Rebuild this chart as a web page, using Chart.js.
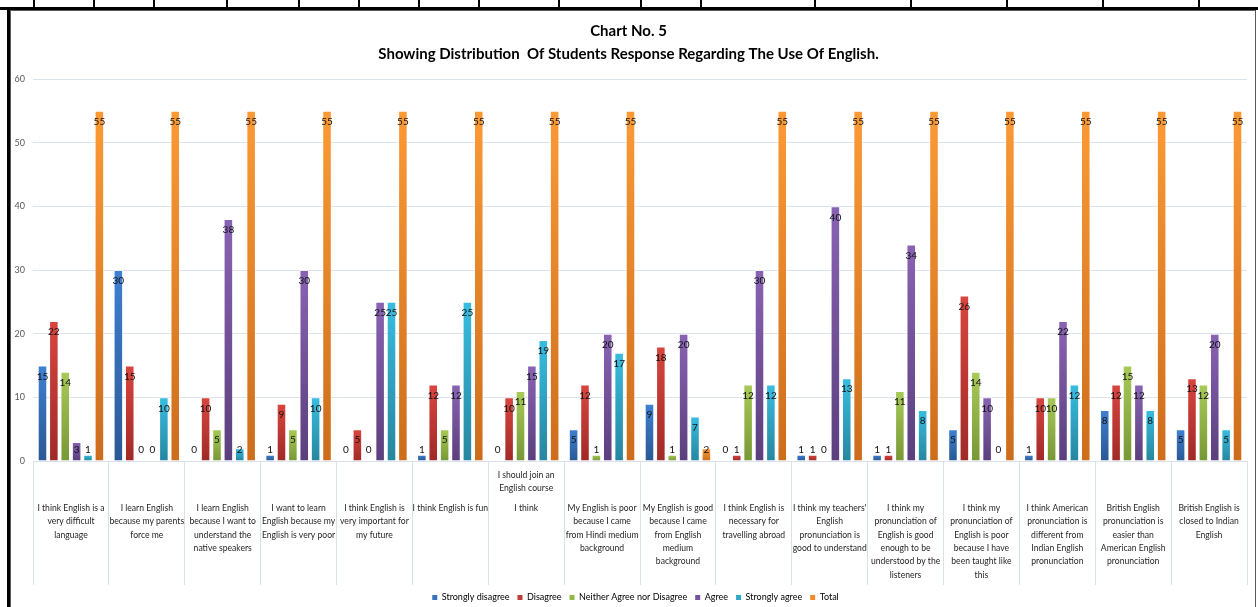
<!DOCTYPE html>
<html>
<head>
<meta charset="utf-8">
<title>Chart No. 5</title>
<script src="https://cdn.jsdelivr.net/npm/chart.js@4.4.1/dist/chart.umd.min.js"></script>
<style>
  html, body { margin: 0; padding: 0; background: #fff; }
  #wrap { position: relative; width: 1258px; height: 607px; overflow: hidden; }
  #c { position: absolute; left: 0; top: 0; }
  .rule { position: absolute; background: #000; }
  .edge { position: absolute; background: #5a5a5a; }
</style>
</head>
<body>
<div id="wrap">
  <canvas id="c" width="1258" height="607"></canvas>
  <!-- surrounding table rules -->
  <div class="rule" style="left:0;top:7px;width:1258px;height:3px"></div>
  <div class="rule" style="left:7px;top:7px;width:3px;height:600px"></div>
  <div class="edge" style="left:10px;top:10px;width:1px;height:597px"></div>
  <div class="edge" style="left:10px;top:10px;width:1246px;height:1px"></div>
  <div class="edge" style="left:1255px;top:10px;width:1px;height:597px"></div>
  <div id="cols"></div>
</div>
<script>
// Table column rules above the chart frame
const tableCols = [33, 93, 153, 226, 298, 358, 418, 478, 558, 640, 700, 814, 910, 1006, 1102, 1198];
const colsBox = document.getElementById('cols');
tableCols.forEach(x => {
  const d = document.createElement('div');
  d.className = 'rule';
  d.style.cssText = 'left:' + x + 'px;top:0;width:2px;height:8px';
  colsBox.appendChild(d);
});

// ---- data ----
const categories = [
  ["I think English is a", "very difficult", "language"],
  ["I learn English", "because my parents", "force me"],
  ["I learn English", "because I want to", "understand the", "native speakers"],
  ["I want to learn", "English because my", "English is very poor"],
  ["I think English is", "very important for", "my future"],
  ["I think English is fun"],
  ["I should join an", "English course", "", "I think"],
  ["My English is poor", "because I came", "from Hindi medium", "background"],
  ["My English is good", "because I came", "from English", "medium", "background"],
  ["I think English is", "necessary for", "travelling abroad"],
  ["I think my teachers'", "English", "pronunciation is", "good to understand"],
  ["I think my", "pronunciation of", "English is good", "enough to be", "understood by the", "listeners"],
  ["I think my", "pronunciation of", "English is poor", "because I have", "been taught like", "this"],
  ["I think American", "pronunciation is", "different from", "Indian English", "pronunciation"],
  ["British English", "pronunciation is", "easier than", "American English", "pronunciation"],
  ["British English is", "closed to Indian", "English"]
];

const seriesNames = ["Strongly disagree", "Disagree", "Neither Agree nor Disagree", "Agree", "Strongly agree", "Total"];

const stronglyDisagree = [15, 30, 0, 1, 0, 1, 0, 5, 9, 0, 1, 1, 5, 1, 8, 5];
const disagree         = [22, 15, 10, 9, 5, 12, 10, 12, 18, 1, 1, 1, 26, 10, 12, 13];
const neither          = [14, 0, 5, 5, 0, 5, 11, 1, 1, 12, 0, 11, 14, 10, 15, 12];
const agree            = [3, 0, 38, 30, 25, 12, 15, 20, 20, 30, 40, 34, 10, 22, 12, 20];
const stronglyAgree    = [1, 10, 2, 10, 25, 25, 19, 17, 7, 12, 13, 8, 0, 12, 8, 5];
const total            = [55, 55, 55, 55, 55, 55, 55, 55, 2, 55, 55, 55, 55, 55, 55, 55];

const yTicks = [0, 10, 20, 30, 40, 50, 60];

// ---- styling ----
const palette = [
  { top: '#3f80d2', bottom: '#2a5894', flat: '#3a72bd' },
  { top: '#d9453f', bottom: '#a02a27', flat: '#c23a36' },
  { top: '#a8ca58', bottom: '#789736', flat: '#93b84a' },
  { top: '#8963b3', bottom: '#5b3f7d', flat: '#7352a0' },
  { top: '#38bde0', bottom: '#27869f', flat: '#31a8c9' },
  { top: '#fb9a35', bottom: '#cd6d1c', flat: '#f08a2a' }
];

function barFill(i) {
  return (ctx) => {
    const chart = ctx.chart;
    if (!chart.chartArea || ctx.type !== 'data' || !chart.scales.y) return palette[i].flat;
    const ys = chart.scales.y;
    const top = ys.getPixelForValue(ctx.raw);
    const base = ys.getPixelForValue(0);
    if (base - top < 1) return palette[i].top;
    const g = chart.ctx.createLinearGradient(0, top, 0, base);
    g.addColorStop(0, palette[i].top);
    g.addColorStop(1, palette[i].bottom);
    return g;
  };
}

const seriesData = [stronglyDisagree, disagree, neither, agree, stronglyAgree, total];

const datasets = seriesData.map((values, i) => ({
  label: seriesNames[i],
  data: values,
  backgroundColor: barFill(i),
  borderColor: 'rgba(255,255,255,0.45)',
  borderWidth: 1,
  borderSkipped: 'bottom',
  categoryPercentage: 0.9,
  barPercentage: 0.84
}));

// value labels placed just inside the top of each bar
const valueLabels = {
  id: 'valueLabels',
  afterDatasetsDraw(chart) {
    const ctx = chart.ctx;
    ctx.save();
    ctx.font = '10px Lato';
    ctx.fillStyle = '#111';
    ctx.textAlign = 'center';
    ctx.textBaseline = 'middle';
    chart.data.datasets.forEach((ds, d) => {
      const meta = chart.getDatasetMeta(d);
      meta.data.forEach((el, j) => {
        const p = el.getProps(['x', 'y', 'base'], true);
        const ty = Math.min(p.y + 11, p.base - 11);
        ctx.fillText(String(ds.data[j]), p.x, ty);
      });
    });
    ctx.restore();
  }
};

// wrapped category captions below the axis
const categoryCaptions = {
  id: 'categoryCaptions',
  afterDraw(chart) {
    const ctx = chart.ctx;
    const xs = chart.scales.x;
    const firstRow = chart.chartArea.bottom + 47;
    const lh = 13.4;
    ctx.save();
    ctx.font = '8.6px Lato';
    ctx.fillStyle = '#262626';
    ctx.textAlign = 'center';
    ctx.textBaseline = 'middle';
    chart.data.labels.forEach((lines, i) => {
      const x = xs.getPixelForValue(i);
      const gap = lines.indexOf('');
      const below = gap >= 0 ? lines.slice(gap + 1) : lines;
      const above = gap >= 0 ? lines.slice(0, gap) : [];
      below.forEach((t, k) => ctx.fillText(t, x, firstRow + k * lh));
      above.forEach((t, k) => ctx.fillText(t, x, firstRow - 20 - (above.length - 1 - k) * 13));
    });
    ctx.restore();
  }
};

// nudge the legend row slightly right of the canvas centre
const legendNudge = {
  id: 'legendNudge',
  afterLayout(chart) {
    if (chart.legend) {
      chart.legend.left += 7;
      chart.legend.right += 7;
    }
  }
};

Chart.defaults.font.family = 'Lato';

new Chart(document.getElementById('c'), {
  type: 'bar',
  data: { labels: categories, datasets },
  options: {
    responsive: false,
    animation: false,
    layout: { padding: { left: 10, right: 11, top: 8, bottom: -5 } },
    scales: {
      x: {
        grid: { offset: true, drawOnChartArea: false, drawTicks: true, tickLength: 124, color: '#d9e1ec' },
        border: { display: true, color: '#d9e1ec' },
        ticks: { display: false }
      },
      y: {
        min: 0,
        max: 60,
        afterBuildTicks(scale) { scale.ticks = yTicks.map(v => ({ value: v })); },
        afterFit(scale) { scale.width = 23; },
        grid: { color: '#dbe3ee', drawTicks: false },
        border: { display: false },
        ticks: { font: { size: 9 }, color: '#595959', padding: 8 }
      }
    },
    plugins: {
      title: {
        display: true,
        text: ['Chart No. 5', 'Showing Distribution  Of Students Response Regarding The Use Of English.'],
        color: '#000',
        font: { size: 15, weight: 'bold', lineHeight: '23px' },
        padding: { top: 12, bottom: 13 }
      },
      legend: {
        position: 'bottom',
        labels: {
          boxWidth: 5,
          boxHeight: 5,
          padding: 8,
          color: '#404040',
          font: { size: 9 },
          generateLabels(chart) {
            return chart.data.datasets.map((ds, i) => ({
              text: ds.label,
              fillStyle: palette[i].flat,
              strokeStyle: palette[i].flat,
              lineWidth: 0,
              hidden: !chart.isDatasetVisible(i),
              datasetIndex: i
            }));
          }
        }
      },
      tooltip: { enabled: false }
    }
  },
  plugins: [valueLabels, categoryCaptions, legendNudge]
});
</script>
</body>
</html>
